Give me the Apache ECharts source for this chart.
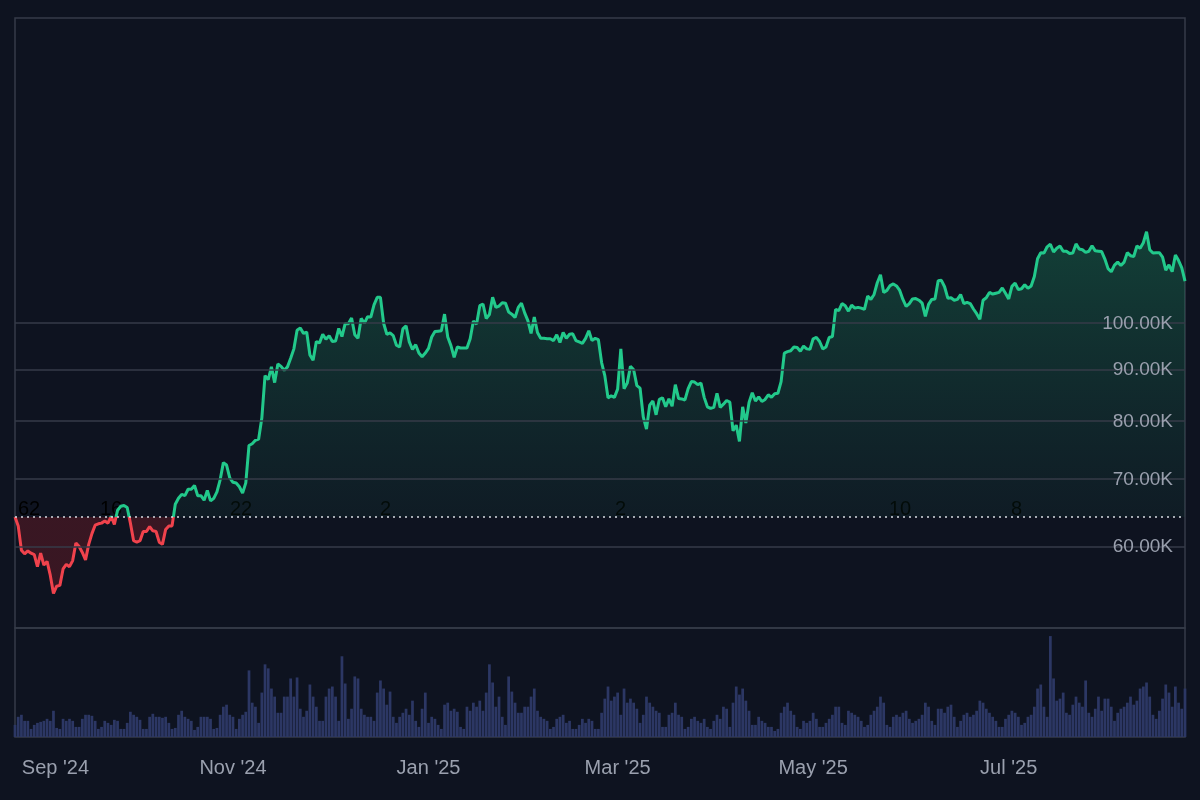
<!DOCTYPE html>
<html>
<head>
<meta charset="utf-8">
<script src="https://cdn.jsdelivr.net/npm/echarts@6/dist/echarts.min.js"></script>
<style>
  html, body { margin: 0; padding: 0; background: #0e1320; }
  #main { width: 1200px; height: 800px; }
</style>
</head>
<body>
<div id="main"></div>
<script>
// daily closes in thousands of USD, 25 Aug 2024 .. 25 Aug 2025
var aug24 = [64.2, 62.9, 59.5, 59.0, 59.4, 59.1, 58.9];
var sep24 = [57.3, 59.1, 57.5, 58.0, 56.2, 53.9, 54.8, 54.9, 57.0, 57.6, 57.3, 58.1, 60.5, 60.0, 59.2, 58.2, 60.3, 61.8, 63.0, 63.2, 63.3, 63.6, 63.3, 64.3, 63.1, 65.2, 65.8, 65.9, 65.6, 63.3];
var oct24 = [60.8, 60.6, 60.8, 62.1, 62.1, 62.8, 62.2, 62.1, 60.6, 60.3, 62.4, 62.9, 62.9, 66.1, 67.0, 67.6, 67.4, 68.4, 68.4, 69.0, 67.4, 67.4, 66.7, 68.2, 66.6, 67.0, 68.0, 69.9, 72.7, 72.3, 70.2];
var nov24 = [69.5, 69.4, 68.8, 67.8, 69.4, 75.6, 75.9, 76.5, 76.7, 80.5, 88.7, 87.9, 90.5, 87.3, 91.1, 90.6, 89.8, 90.5, 92.3, 94.3, 98.4, 98.9, 97.7, 98.0, 93.0, 91.9, 95.9, 95.6, 97.5, 96.4];
var dec24 = [97.2, 95.9, 96.0, 98.8, 97.0, 99.9, 99.9, 101.2, 97.4, 96.6, 101.1, 100.0, 101.5, 101.4, 104.3, 106.1, 106.1, 100.0, 97.5, 97.8, 97.2, 95.1, 94.7, 98.7, 99.4, 95.8, 94.2, 95.2, 93.4, 92.6, 93.4];
var jan25 = [94.4, 96.9, 98.1, 98.2, 98.3, 102.1, 96.9, 95.0, 92.5, 94.7, 94.5, 94.5, 94.5, 96.5, 100.5, 99.8, 104.1, 104.5, 101.1, 102.0, 106.1, 103.7, 104.0, 104.8, 104.7, 102.6, 102.1, 101.3, 103.7, 104.7, 102.4];
var feb25 = [100.6, 97.7, 101.4, 97.9, 96.6, 96.6, 96.5, 96.5, 96.1, 97.4, 95.7, 97.9, 96.6, 97.5, 97.6, 96.1, 95.8, 95.5, 96.6, 98.3, 96.1, 96.6, 96.3, 91.4, 88.7, 84.3, 84.7, 84.4];
var mar25 = [86.0, 94.3, 86.1, 87.2, 90.6, 89.9, 86.7, 86.2, 80.7, 78.5, 82.9, 83.7, 81.1, 84.0, 84.3, 82.6, 84.1, 82.7, 86.9, 84.2, 84.1, 83.9, 86.1, 87.5, 87.4, 86.9, 87.2, 84.4, 82.6, 82.3, 82.5];
var apr25 = [85.2, 82.5, 83.1, 83.8, 83.5, 78.2, 79.2, 76.3, 82.6, 79.6, 83.4, 85.3, 83.7, 84.5, 83.6, 84.0, 84.9, 84.4, 85.1, 85.2, 87.5, 93.4, 93.7, 93.9, 94.7, 94.6, 93.8, 94.9, 94.3, 94.2];
var may25 = [96.5, 96.8, 95.9, 94.3, 94.7, 96.8, 97.0, 103.2, 102.9, 104.6, 104.1, 102.8, 104.2, 103.5, 103.7, 103.5, 103.2, 106.4, 105.6, 106.8, 109.7, 111.7, 107.3, 107.8, 109.0, 109.4, 108.9, 107.8, 105.6, 103.9, 104.6];
var jun25 = [105.7, 105.8, 105.4, 104.7, 101.6, 104.4, 105.6, 105.7, 110.2, 110.3, 108.7, 105.9, 106.0, 105.4, 105.6, 106.8, 104.6, 104.9, 104.6, 103.3, 102.2, 100.9, 105.4, 106.0, 107.3, 106.9, 107.1, 107.3, 108.4, 107.1];
var jul25 = [105.7, 108.8, 109.6, 108.0, 108.2, 109.2, 108.3, 108.9, 111.3, 115.9, 117.5, 117.4, 119.1, 119.8, 117.7, 118.7, 119.3, 117.9, 117.9, 117.3, 117.4, 119.9, 118.5, 118.3, 117.6, 117.9, 119.4, 118.0, 117.9, 117.8, 115.8];
var aug25 = [113.3, 112.5, 114.2, 115.0, 114.1, 115.0, 117.5, 116.7, 116.5, 119.3, 118.7, 120.2, 123.3, 118.3, 117.4, 117.5, 117.5, 116.3, 112.9, 114.3, 112.5, 116.9, 115.4, 113.5, 110.1];

// relative daily volume
var volAug24 = [12, 20, 22, 16, 16, 8, 12];
var volSep24 = [14, 15, 16, 18, 16, 26, 9, 8, 18, 16, 18, 16, 10, 10, 18, 22, 22, 21, 16, 8, 10, 16, 14, 12, 17, 16, 8, 8, 14, 25];
var volOct24 = [22, 20, 17, 8, 8, 20, 23, 20, 20, 19, 20, 14, 8, 9, 22, 26, 20, 18, 16, 7, 10, 20, 20, 20, 18, 8, 9, 22, 30, 32, 22];
var volNov24 = [20, 8, 18, 22, 25, 66, 34, 30, 14, 44, 72, 68, 48, 40, 24, 24, 40, 40, 58, 40, 59, 28, 20, 26, 52, 40, 30, 16, 16, 40];
var volDec24 = [48, 50, 40, 16, 80, 53, 18, 28, 60, 58, 28, 22, 20, 20, 16, 44, 56, 48, 32, 45, 20, 14, 20, 24, 28, 22, 36, 16, 10, 28, 44];
var volJan25 = [14, 20, 18, 12, 8, 32, 34, 26, 28, 25, 10, 8, 30, 26, 34, 30, 36, 26, 44, 72, 54, 30, 40, 20, 12, 60, 45, 34, 24, 24, 30];
var volFeb25 = [30, 40, 48, 26, 20, 18, 16, 8, 10, 18, 20, 22, 14, 16, 8, 8, 12, 18, 14, 18, 16, 8, 8, 24, 38, 50, 36, 40];
var volMar25 = [44, 22, 48, 34, 38, 34, 28, 14, 22, 40, 34, 30, 26, 24, 10, 10, 22, 24, 34, 22, 20, 8, 10, 18, 20, 16, 14, 18, 10, 8, 16];
var volApr25 = [22, 18, 30, 28, 10, 34, 50, 42, 48, 36, 26, 12, 12, 20, 16, 14, 10, 10, 6, 8, 24, 30, 34, 26, 22, 10, 8, 16, 14, 16];
var volMay25 = [24, 18, 10, 10, 14, 18, 22, 30, 30, 14, 12, 26, 24, 22, 20, 16, 10, 12, 22, 26, 30, 40, 34, 12, 10, 20, 22, 20, 24, 26, 18];
var volJun25 = [14, 16, 18, 22, 34, 30, 16, 12, 28, 28, 24, 30, 32, 20, 10, 16, 22, 24, 20, 22, 26, 36, 34, 28, 24, 20, 16, 10, 10, 18];
var volJul25 = [22, 26, 24, 20, 12, 14, 20, 22, 30, 48, 52, 30, 20, 100, 58, 36, 38, 44, 24, 22, 32, 40, 34, 30, 56, 24, 20, 28, 40, 26, 38];
var volAug25 = [38, 30, 16, 24, 28, 30, 34, 40, 32, 36, 48, 50, 54, 40, 22, 18, 26, 38, 52, 44, 30, 50, 34, 28, 48];

var gridLevels = [60, 70, 80, 90, 100];
var monthLabels = ["Sep '24", "Nov '24", "Jan '25", "Mar '25", "May '25", "Jul '25"];
var markerTexts = [["62", 28], ["16", 110], ["22", 240], ["2", 390], ["2", 625], ["10", 899], ["8", 1021]];

var prices = [].concat(aug24, sep24, oct24, nov24, dec24, jan25, feb25, mar25, apr25, may25, jun25, jul25, aug25);
var volumes = [].concat(volAug24, volSep24, volOct24, volNov24, volDec24, volJan25, volFeb25, volMar25, volApr25, volMay25, volJun25, volJul25, volAug25);
var baseline = prices[0];

var days = [];
var labelAt = {};
var start = new Date(Date.UTC(2024, 7, 25));
var mNames = ['Jan', 'Feb', 'Mar', 'Apr', 'May', 'Jun', 'Jul', 'Aug', 'Sep', 'Oct', 'Nov', 'Dec'];
for (var i = 0; i < prices.length; i++) {
    var d = new Date(start.getTime() + i * 86400000);
    var key = mNames[d.getUTCMonth()] + " '" + String(d.getUTCFullYear()).slice(2);
    days.push(key + ' ' + d.getUTCDate());
    if (d.getUTCDate() === 1 && monthLabels.indexOf(key) >= 0) labelAt[i] = key;
}
// line is drawn as baseline + difference, stacked, so the area fills from the baseline
var baseData = prices.map(function() { return baseline; });
var diffData = prices.map(function(p) { return +(p - baseline).toFixed(2); });

var myChart = echarts.init(document.getElementById('main'));
var txt = '#9aa0ae';
var line = '#363b48';

var option = {
    backgroundColor: '#0e1320',
    animation: false,
    grid: [
        { left: 15, right: 15, top: 18, height: 610, show: true, borderColor: line, borderWidth: 1.5 },
        { left: 15, right: 15, top: 628, height: 109, show: true, borderColor: line, borderWidth: 1.5 }
    ],
    xAxis: [
        { type: 'category', gridIndex: 0, data: days, boundaryGap: false, show: false },
        {
            type: 'category', gridIndex: 1, data: days, boundaryGap: false,
            axisLine: { show: false }, axisTick: { show: false },
            axisLabel: {
                color: txt, fontSize: 20, margin: 21,
                interval: function(idx) { return labelAt[idx] !== undefined; },
                formatter: function(v, idx) {
                    if (!labelAt[idx]) return '';
                    return labelAt[idx] === monthLabels[0] ? '{first|' + labelAt[idx] + '}' : labelAt[idx];
                },
                rich: { first: { color: txt, fontSize: 20, padding: [0, 0, 0, 36] } }
            }
        }
    ],
    yAxis: [
        { type: 'log', gridIndex: 0, min: 49.8, max: 201, show: false, splitLine: { show: false } },
        { type: 'value', gridIndex: 1, min: 0, max: 108, show: false, splitLine: { show: false } }
    ],
    series: [
        {
            name: 'base', type: 'line', xAxisIndex: 0, yAxisIndex: 0, data: baseData,
            stack: 'p', stackStrategy: 'all', showSymbol: false, lineStyle: { opacity: 0 }, silent: true,
            markLine: {
                silent: true, symbol: 'none',
                data: gridLevels.map(function(v) {
                    return {
                        yAxis: v,
                        lineStyle: { color: line, type: 'solid', width: 1.5 },
                        label: { show: true, position: 'insideEndTop', distance: [12, -10], color: txt, fontSize: 19,
                                 formatter: v.toFixed(2) + 'K' }
                    };
                }).concat([{
                    yAxis: baseline,
                    lineStyle: { color: '#d8dbe2', type: [2, 4], width: 1.5 },
                    label: { show: false }
                }])
            }
        },
        {
            name: 'price', type: 'line', xAxisIndex: 0, yAxisIndex: 0, data: diffData,
            stack: 'p', stackStrategy: 'all', showSymbol: false,
            lineStyle: { width: 3, color: '#22c98b' },
            areaStyle: { color: 'rgba(34,201,139,0.2)' },
            z: 3
        },
        {
            type: 'bar', xAxisIndex: 1, yAxisIndex: 1, data: volumes,
            barCategoryGap: '15%', itemStyle: { color: '#2c3764' }
        }
    ],
    graphic: markerTexts.map(function(m) {
        return {
            type: 'text', left: m[1] - 10, top: 499,
            style: { text: m[0], fill: '#000', font: '20px sans-serif' }
        };
    })
};
myChart.setOption(option);

// split colours at the baseline's pixel height
var by = myChart.convertToPixel({ yAxisIndex: 0 }, baseline);
var f = by / 800;
function split(up, down) {
    return new echarts.graphic.LinearGradient(0, 0, 0, 800, [
        { offset: 0.28, color: up[0] }, { offset: f, color: up[1] },
        { offset: f, color: down[0] }, { offset: 1, color: down[1] }
    ], true);
}
myChart.setOption({
    series: [{}, {
        lineStyle: { color: split(['#22c98b', '#22c98b'], ['#f0424c', '#f0424c']) },
        areaStyle: { color: split(['rgba(28,150,100,0.5)', 'rgba(28,120,90,0.12)'], ['rgba(150,30,40,0.45)', 'rgba(150,30,40,0.45)']) }
    }]
});
</script>
</body>
</html>
